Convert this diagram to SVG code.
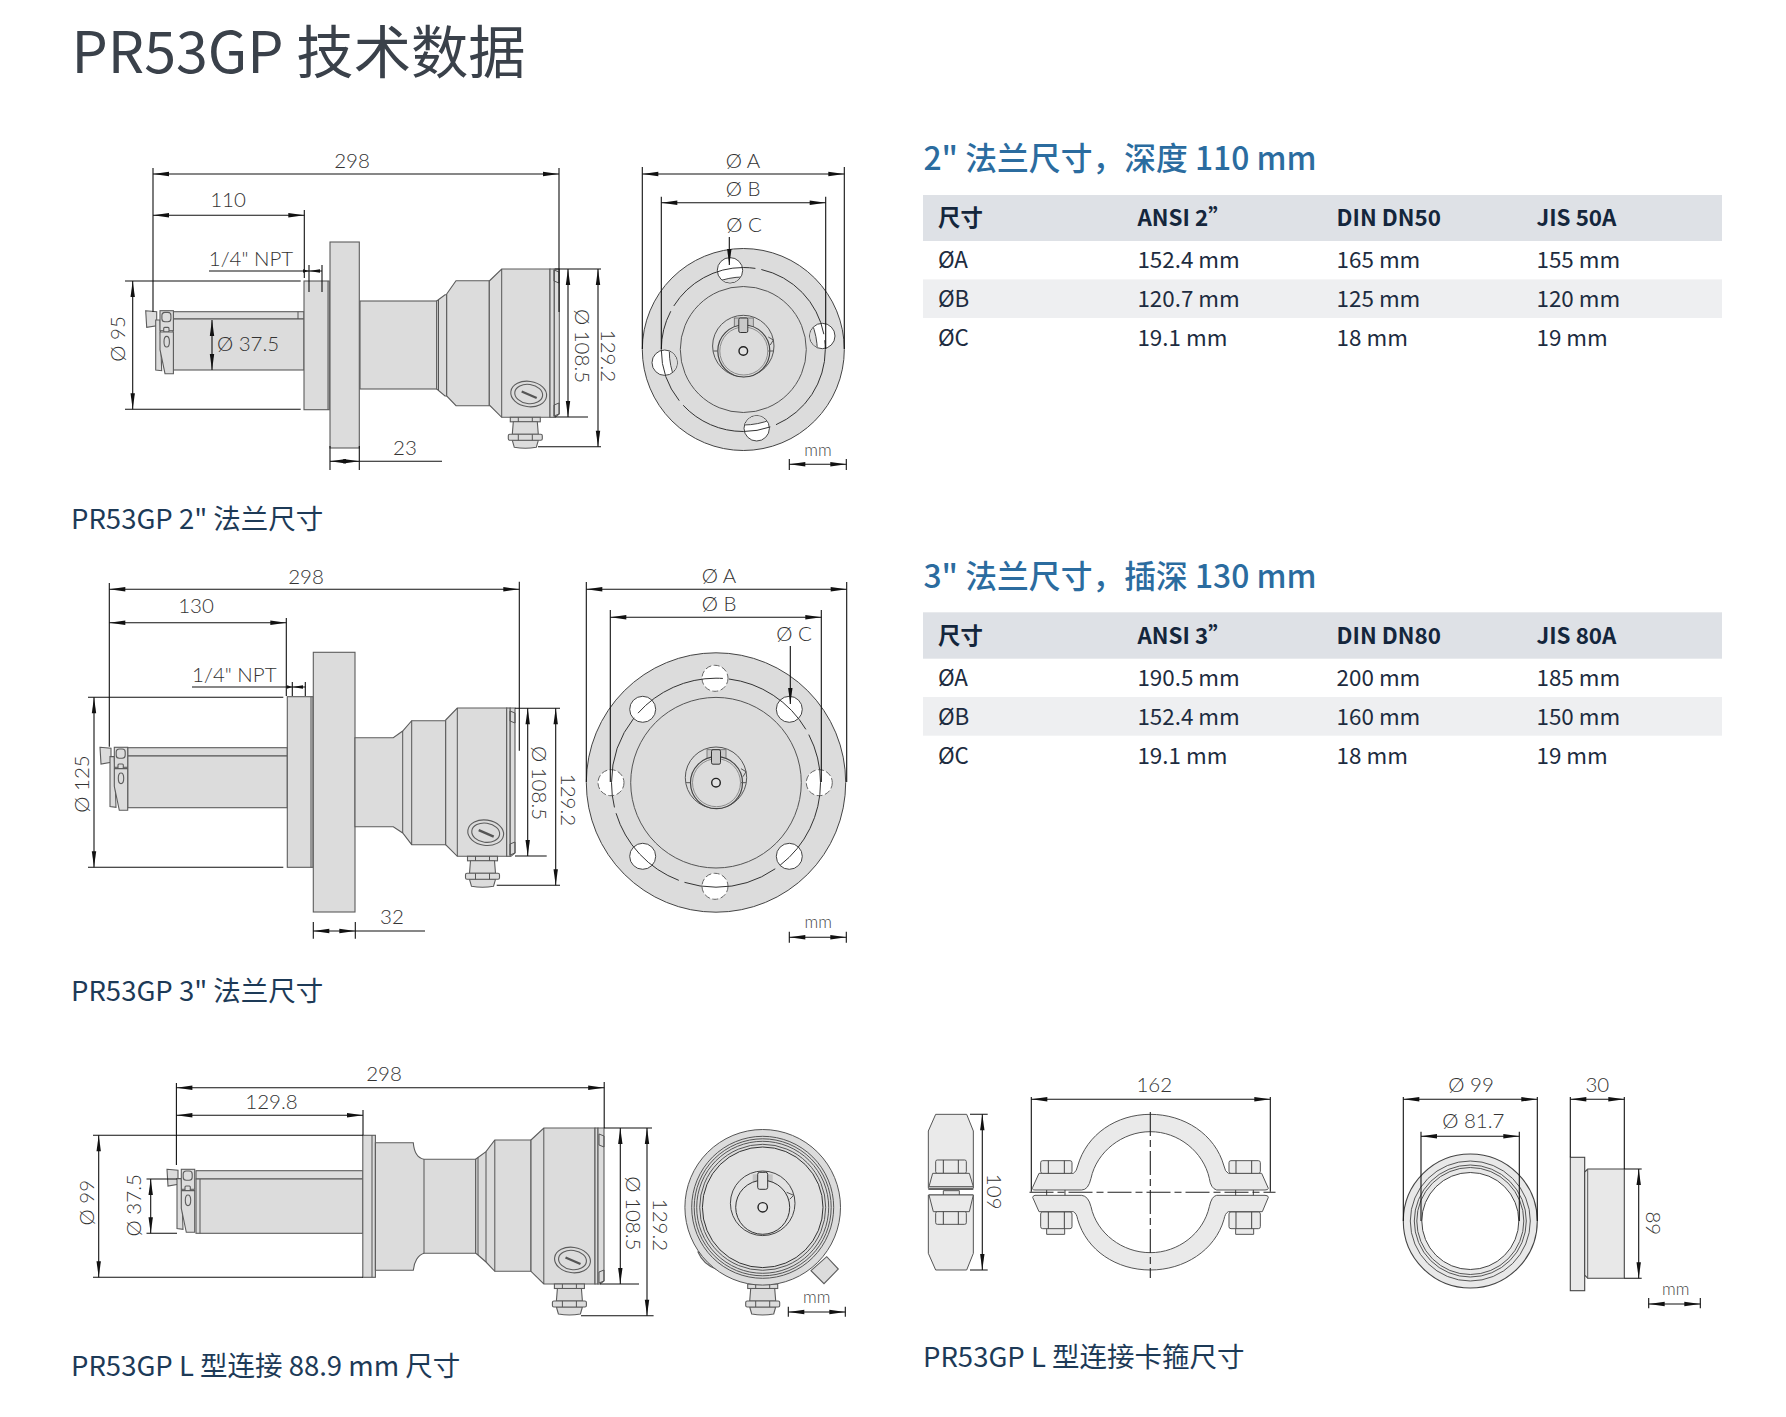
<svg xmlns="http://www.w3.org/2000/svg" xmlns:xlink="http://www.w3.org/1999/xlink" width="1786" height="1417" viewBox="0 0 1786 1417">
<style>
.n{font-family:"Noto Sans CJK SC","Noto Sans",sans-serif}
.h1{font-size:57.3px;font-weight:400;fill:#3a414a}
.h2{font-size:31.8px;font-weight:500;fill:#2b6c9f}
.cap{font-size:27.5px;fill:#1d3a57}
.th{font-size:22.4px;font-weight:700;fill:#14263c}
.td{font-size:22.4px;fill:#1d2c40}
.d{font-family:Lato,"Liberation Sans",sans-serif;font-weight:300;font-size:20.5px;fill:#333;text-anchor:middle}
.mm{font-family:Lato,"Liberation Sans",sans-serif;font-weight:300;font-size:17px;fill:#444;text-anchor:middle}
.hdr{fill:#dee1e6}.band{fill:#eeeff1}
.b{fill:#dcdcdc;stroke:#5c5c5c;stroke-width:1.1}
.w{fill:#e8e8e8;stroke:#444;stroke-width:1.1}
.l{fill:#eaeaea;stroke:#555;stroke-width:1;vector-effect:non-scaling-stroke}
.ln{fill:none;stroke:#555;stroke-width:1}
.ls{fill:none;stroke:#444;stroke-width:1;vector-effect:non-scaling-stroke}
.hole{fill:#fff;stroke:#444;stroke-width:1}
.hole2{fill:#fff;stroke:#666;stroke-width:1;stroke-dasharray:6 2.5}
.dash{fill:none;stroke:#333;stroke-width:1;stroke-dasharray:95 6}
.dm{fill:none;stroke:#111;stroke-width:1.1}
.ar{marker-start:url(#a);marker-end:url(#a)}
.cl{fill:none;stroke:#222;stroke-width:1.1;stroke-dasharray:24 4 7 4}
.tip{fill:#111}
</style>
<defs>
<marker id="a" markerUnits="userSpaceOnUse" markerWidth="18" markerHeight="6" viewBox="0 -3 16 6" refX="16" refY="0" orient="auto-start-reverse"><path d="M16 0L0-2.2V2.2Z" fill="#111"/></marker>
<g id="clamp">
<path class="b" d="M0 0L11 1V15L1 16.7Z"/>
<path class="b" d="M10 9.3H14.3L16 60L10 59.3Z"/>
<rect class="b" x="14.3" y="0" width="13.4" height="20"/>
<rect class="b" x="16.2" y="1.7" width="9" height="9.3" rx="3"/>
<rect class="b" x="18" y="16.7" width="5.3" height="4.7" rx="1"/>
<path class="b" d="M14.3 21.3H27.7V63H19.3L14.3 39Z"/>
<ellipse class="b" cx="21" cy="31" rx="2.7" ry="5.3"/>
</g>
<g id="gland">
<rect class="b" x="-15" y="0" width="30" height="4.5"/>
<path class="b" d="M-12 4.5H12L13 17H-13Z"/>
<path class="b" d="M-13 23L-11 30Q0 32 11 30L13 23Z"/>
<rect class="b" x="-17" y="17" width="34" height="6" rx="1.5"/>
<path class="ln" d="M-7 17V23M7 17V23M-7 0V4.5M7 0V4.5"/>
</g>
<g id="cap">
<ellipse class="b" rx="18" ry="12.7" transform="rotate(8)"/>
<ellipse class="b" rx="14" ry="9.6" transform="rotate(8)"/>
<path d="M-7-2.5L8 4" fill="none" stroke="#555" stroke-width="2.4"/>
</g>
<g id="boss">
<circle class="ln" cy="-5" r="30.7"/>
<rect x="-9" y="-33" width="19" height="14" fill="#c9c9c9" stroke="#666" stroke-width="0.8"/>
<circle cx="0.5" r="26" fill="#dcdcdc" stroke="#444" stroke-width="1.2"/>
<circle cx="0.5" r="24" fill="none" stroke="#777" stroke-width="0.8"/>
<rect x="-4.5" y="-33" width="9" height="14.5" rx="1.5" fill="#c9c9c9" stroke="#333" stroke-width="1"/>
<path class="ln" d="M-30 0H-26M25 0H30M25-14L30-11L27-6"/>
<circle r="4.3" fill="#e2e2e2" stroke="#222" stroke-width="1.4"/>
</g>
<clipPath id="h1clip">
<circle cx="730" cy="270.3" r="12.2"/><circle cx="822.3" cy="336" r="12.2"/><circle cx="664.7" cy="362.7" r="12.2"/><circle cx="756.7" cy="428.3" r="12.2"/>
</clipPath>
</defs>
<rect width="1786" height="1417" fill="#fff"/>
<g id="title"><text class="n h1" x="71.5" y="73">PR53GP 技术数据</text></g>

<g id="view-2in-side">
<rect class="b" x="173" y="311.7" width="131" height="7.3"/>
<rect class="b" x="173" y="319" width="131" height="51"/>
<path class="ln" d="M298 311.7V319"/>
<rect class="b" x="304" y="281" width="25.3" height="128.7"/>
<path class="ln" d="M328 281V409.7"/>
<rect class="b" x="330" y="242" width="29.3" height="206" stroke="#888"/>
<rect class="b" x="360" y="301" width="76.7" height="88"/>
<path class="b" d="M436.7 301L445 294.7H446.7V396H445L436.7 389Z"/>
<path class="ln" d="M438.5 300V390.5"/>
<path class="b" d="M446.7 294L456 280.7H489.3V405.7H456L446.7 396Z"/>
<path class="b" d="M489.3 281L501.7 269H550V417.3H501.7L489.3 405Z"/>
<path class="ln" d="M501.7 269V417.3"/>
<rect class="b" x="550" y="269" width="4.3" height="148.3"/>
<path class="b" d="M554.3 269H559.3V414L555 417.3H554.3Z"/>
<path class="ln" d="M554 270L559 272V283L554 281ZM554 405L559 403V414L554 416Z"/>
<use xlink:href="#clamp" href="#clamp" x="145.7" y="310.7"/>
<use xlink:href="#cap" href="#cap" x="528.7" y="394"/>
<use xlink:href="#gland" href="#gland" x="525.3" y="417.3"/>
</g>

<g id="view-2in-front">
<circle cx="743.3" cy="349.5" r="101" fill="#dcdcdc" stroke="#444"/>
<circle class="hole" cx="730" cy="270.3" r="12.7"/><circle class="hole" cx="822.3" cy="336" r="12.7"/><circle class="hole" cx="664.7" cy="362.7" r="12.7"/><circle class="hole" cx="756.7" cy="428.3" r="12.7"/>
<g clip-path="url(#h1clip)"><circle cx="743.3" cy="351" r="74" fill="#dcdcdc" stroke="#444"/></g>
<circle class="dash" cx="743.3" cy="349.5" r="82"/>
<circle class="ln" cx="743.3" cy="349.5" r="63" stroke="#333"/>
<use xlink:href="#boss" href="#boss" x="743.3" y="351"/>
</g>

<g id="view-3in-side">
<rect class="b" x="127.7" y="747.7" width="159.6" height="8.3"/>
<rect class="b" x="127.7" y="756" width="159.6" height="51.7"/>
<rect class="b" x="287.3" y="696.7" width="25.7" height="170.6"/>
<path class="ln" d="M311 696.7V867.3"/>
<rect class="b" x="313.3" y="652.3" width="41.7" height="259.7" stroke="#888"/>
<path class="b" d="M355 737.7H393.3L402.7 731L411.7 720.7H445.7V844.7H411.7L402.7 833L393.3 826.7H355Z"/>
<path class="ln" d="M402.7 731V833M411.7 720.7V844.7"/>
<path class="b" d="M445.7 720L457.3 708H506.7V856.3H457.3L445.7 844.7Z"/>
<path class="ln" d="M457.3 708V856.3"/>
<rect class="b" x="506.7" y="708" width="3.5" height="148.3"/>
<path class="b" d="M510.2 708H515V853L511 856.3H510.2Z"/>
<path class="ln" d="M510 711L515 713V723L510 721ZM510 844L515 842V853L510 855Z"/>
<use xlink:href="#clamp" href="#clamp" x="100" y="747.3"/>
<use xlink:href="#cap" href="#cap" x="485.7" y="832.7"/>
<use xlink:href="#gland" href="#gland" x="482.5" y="856.3"/>
</g>

<g id="view-3in-front">
<circle cx="716" cy="782.5" r="129.7" fill="#dcdcdc" stroke="#444"/>
<circle class="hole2" cx="715" cy="678.3" r="13"/><circle class="hole" cx="642.7" cy="709.3" r="13"/><circle class="hole" cx="789.3" cy="709.3" r="13"/><circle class="hole2" cx="611" cy="782.7" r="13"/><circle class="hole2" cx="819.3" cy="782.7" r="13"/><circle class="hole" cx="642.7" cy="856.3" r="13"/><circle class="hole" cx="789.3" cy="856.3" r="13"/><circle class="hole2" cx="715" cy="886.3" r="13"/>
<circle class="dash" cx="716" cy="782.7" r="104.5"/>
<circle class="ln" cx="716" cy="782.7" r="85.3" stroke="#333"/>
<use xlink:href="#boss" href="#boss" x="716" y="782.7"/>
</g>

<g id="view-l-side">
<rect class="b" x="196" y="1170.7" width="167" height="8.3"/>
<rect class="b" x="196" y="1179" width="167" height="54.3"/>
<path class="ln" d="M200 1179V1233.3"/>
<rect class="b" x="362.8" y="1135.3" width="12.6" height="142" stroke="#888"/>
<path class="ln" d="M372 1135.3V1277.3"/>
<path class="b" d="M375.4 1142.7H413.3C414 1152 418 1158 424 1159.3H475.7V1253.3H424C418 1255 414 1262 413.3 1270.3H375.4Z"/>
<path class="ln" d="M424 1159.3V1253.3"/>
<path class="b" d="M475.7 1159.3L478 1157.5L486 1151.7L494.8 1140H531V1271.3H494.8L486 1262L478 1255L475.7 1253.3Z"/>
<path class="ln" d="M478 1157.5V1255M486 1151.7V1262M494.8 1140V1271.3"/>
<path class="b" d="M531 1140L543.8 1128H595V1284H543.8L531 1271.3Z"/>
<path class="ln" d="M543.8 1128V1284"/>
<rect class="b" x="595" y="1128" width="3" height="156"/>
<path class="b" d="M598 1128H604V1281L600 1284H598Z"/>
<path class="ln" d="M599 1134L604 1136V1147L599 1145ZM599 1272L604 1270V1281L599 1283Z"/>
<use xlink:href="#clamp" href="#clamp" x="167" y="1169.3"/>
<use xlink:href="#cap" href="#cap" x="572.5" y="1260"/>
<use xlink:href="#gland" href="#gland" x="569.4" y="1284"/>
</g>

<g id="view-l-front">
<path class="b" d="M698 1252Q703 1264 716 1269L712 1250Z"/>
<path class="b" d="M811 1270.7L826.7 1256.7L838.3 1269L824 1283.7Z"/>
<use xlink:href="#gland" href="#gland" x="762.7" y="1284"/>
<circle cx="762.7" cy="1207.3" r="77.8" fill="#dcdcdc" stroke="#555"/>
<circle class="ln" cx="762.7" cy="1207.3" r="71"/><circle class="ln" cx="762.7" cy="1207.3" r="68.5"/><circle class="ln" cx="762.7" cy="1207.3" r="66"/><circle class="ln" cx="762.7" cy="1207.3" r="63" stroke="#333"/><circle cx="762.7" cy="1207.3" r="60.3" fill="#e2e2e2" stroke="#333"/>
<g transform="translate(762.7 1207.3)">
<circle cy="-4" r="32.3" fill="none" stroke="#444"/>
<rect x="-10" y="-33" width="20" height="13" fill="#c4c4c4"/>
<circle r="27" fill="#e2e2e2" stroke="#333"/>
<rect x="-5" y="-35" width="10" height="17" rx="2" fill="#e2e2e2" stroke="#333"/>
<path class="ln" d="M24-15L31-12L27-8"/>
<circle r="4.7" fill="#e8e8e8" stroke="#222" stroke-width="1.4"/>
</g>
</g>

<g id="clamp-side" transform="translate(920 1060) scale(.33333)">
<path class="l" d="M47 163H140L160 213V385H25V213Z"/>
<path class="l" d="M25 405H160V580L140 630H47L25 580Z"/>
<rect class="l" x="47" y="300" width="92" height="40" rx="5"/><path class="ls" d="M70 300V340M115 300V340"/>
<path class="l" d="M38 340H148L160 380H27Z"/><path class="ls" d="M25 388H160"/>
<rect class="l" x="70" y="392" width="48" height="13"/>
<path class="l" d="M27 405H160L148 455H40Z"/>
<rect class="l" x="47" y="455" width="92" height="38" rx="5"/><path class="ls" d="M70 455V493M115 455V493"/>
</g>

<g id="clamp-front" transform="translate(920 1060) scale(.33333)">
<path class="l" d="M338 382L357 340H460Q470 335 473 318C500 222 590 163 691 163C792 163 885 222 912 318Q915 335 925 340H1025L1045 385Q1045 390 1035 390H890Q872 385 868 355C850 275 775 215 691 215C607 215 530 275 513 355Q505 390 485 390H345Q335 390 338 382Z"/>
<path class="l" d="M338 412Q340 406 345 406H485Q505 408 513 440C530 520 607 578 691 578C775 578 850 520 868 440Q875 408 890 406H1035Q1045 406 1045 412L1027 455H925Q915 460 912 478C885 572 792 630 691 630C590 630 500 572 473 478Q470 460 460 455H357Z"/>
<rect class="l" x="362" y="302" width="94" height="38" rx="6"/><path class="ls" d="M385 302V340M433 302V340"/>
<rect class="l" x="927" y="302" width="94" height="38" rx="6"/><path class="ls" d="M948 302V340M995 302V340"/>
<rect class="l" x="380" y="505" width="54" height="18"/><rect class="l" x="362" y="456" width="94" height="50" rx="6"/><path class="ls" d="M385 456V506M433 456V506"/>
<rect class="l" x="947" y="505" width="54" height="18"/><rect class="l" x="927" y="456" width="94" height="50" rx="6"/><path class="ls" d="M948 456V506M995 456V506"/>
<path class="ls" d="M380 390V406M435 390V406M947 390V406M1000 390V406"/>
</g>

<g id="ring-front">
<circle class="w" cx="1470.3" cy="1221" r="67"/>
<circle class="ln" cx="1470.3" cy="1221" r="60" stroke="#444"/>
<circle class="ln" cx="1470.3" cy="1221" r="56" stroke="#333"/>
<circle class="ln" cx="1470.3" cy="1221" r="53.5" stroke="#333"/>
<circle class="hole" cx="1470.3" cy="1221" r="48.5"/>
</g>
<g id="ring-side">
<rect class="w" x="1570.3" y="1157.3" width="14.4" height="133.4"/>
<path class="w" d="M1584.7 1172L1587.7 1169H1624.3V1278.3H1587.7L1584.7 1275Z"/>
<path class="ln" d="M1587.7 1169V1278.3"/>
</g>

<g id="connectors">
<path class="dm" d="M153 168V312M559 168V312M304.3 210V278M309 265V292M322 265V292M125 281H300.7M125 409.3H300.7M555 269H601M555 417H588M538 446.7H601M330 446V470M359.3 446V470"/>
<path class="dm ar" d="M153 174H559"/>
<path class="dm ar" d="M153 215.3H304.3"/>
<path class="dm" d="M209 271H322"/>
<path class="tip" d="M309 271L303 269.3V272.7ZM309 271L320 269.3V272.7Z"/>
<path class="dm ar" d="M132.7 281V409.3"/>
<path class="dm ar" d="M212 320V370"/>
<path class="dm ar" d="M568 269V417"/>
<path class="dm ar" d="M598 269V446.7"/>
<path class="dm ar" d="M330 461.3H359.3"/><path class="dm" d="M359.3 461.3H442"/>

<path class="dm" d="M642.3 167V349M844.3 167V349M661.3 196.7V349M825.7 196.7V349M789.3 459V470M846.3 459V470"/>
<path class="dm ar" d="M642.3 174H844.3"/>
<path class="dm ar" d="M661.3 202.7H825.7"/>
<path class="dm" d="M729.3 237V265" marker-end="url(#a)"/>
<path class="dm ar" d="M789.3 464.3H846.3"/>

<path class="dm" d="M109.3 583V746.7M519.3 581.7V750.7M286.3 618V696M292.3 682V696M305.3 682V696M88 697.3H283.3M88 867.3H283.3M515 708.3H560M515 856H546.7M496.7 885.3H560M313.3 922V938.7M355.3 922V938.7"/>
<path class="dm ar" d="M109.3 589.3H519.3"/>
<path class="dm ar" d="M109.3 622.7H286.3"/>
<path class="dm" d="M192 687H305.3"/>
<path class="tip" d="M292.3 687L287 685.3V688.7ZM292.3 687L303 685.3V688.7Z"/>
<path class="dm ar" d="M94 697.3V867.3"/>
<path class="dm ar" d="M527.7 708.3V856"/>
<path class="dm ar" d="M555.7 708.3V885.3"/>
<path class="dm ar" d="M313.3 931H355.3"/><path class="dm" d="M355.3 931H425"/>

<path class="dm" d="M586.3 582V782M846.7 582V782M610.3 610V782M821.3 610V782M789.3 931.7V942.7M846.3 931.7V942.7"/>
<path class="dm ar" d="M586.3 589.3H846.7"/>
<path class="dm ar" d="M610.3 617.3H821.3"/>
<path class="dm" d="M790.3 646V704" marker-end="url(#a)"/>
<path class="dm ar" d="M789.3 937.3H846.3"/>

<path class="dm" d="M176.4 1083V1165M604.2 1082V1128M363 1110V1135.3M93 1135.3H363M93 1277.3H363M146.5 1179H177M146.5 1233.3H177M604 1128H652M600 1284H639M581 1315.7H653.6M788.3 1306.7V1316.7M845.3 1306.7V1316.7"/>
<path class="dm ar" d="M176.4 1087.7H604.2"/>
<path class="dm ar" d="M176.4 1115.3H363"/>
<path class="dm ar" d="M98.7 1135.3V1277.3"/>
<path class="dm ar" d="M150.7 1179V1233.3"/>
<path class="dm ar" d="M620.3 1128V1284"/>
<path class="dm ar" d="M647 1128V1315.7"/>
<path class="dm ar" d="M788.3 1312H845.3"/>

<path class="dm" d="M970 1114.3H987.7M970 1270H987.7M1031.3 1097V1191.7M1270.3 1097V1191.7"/>
<path class="dm ar" d="M982.3 1114.3V1270"/>
<path class="dm ar" d="M1031.3 1099.3H1270.3"/>
<path class="cl" d="M1029.5 1192.3H1275.5M1150.3 1112V1278"/>

<path class="dm" d="M1403.3 1097V1221M1537.3 1097V1221M1421 1131.7V1221M1519.3 1131.7V1221M1570.3 1097V1157.3M1624.3 1097V1169M1624.3 1169H1641.7M1624.3 1278.3H1641.7M1648.7 1298V1308.3M1700.3 1298V1308.3"/>
<path class="dm ar" d="M1403.3 1099.3H1537.3"/>
<path class="dm ar" d="M1421 1136.3H1519.3"/>
<path class="dm ar" d="M1570.3 1099.3H1624.3"/>
<path class="dm ar" d="M1638.7 1169V1278.3"/>
<path class="dm ar" d="M1648.7 1304H1700.3"/>
</g>

<g id="dim-labels">
<text class="d" x="352" y="168">298</text>
<text class="d" x="228" y="207">110</text>
<text class="d" x="251" y="265.5">1/4" NPT</text>
<text class="d" transform="translate(124.5 339) rotate(-90)">Ø 95</text>
<text class="d" x="248" y="351">Ø 37.5</text>
<text class="d" x="405" y="455">23</text>
<text class="d" transform="translate(574.5 346) rotate(90)">Ø 108.5</text>
<text class="d" transform="translate(601 356) rotate(90)">129.2</text>
<text class="d" x="743" y="168">Ø A</text>
<text class="d" x="743" y="195.7">Ø B</text>
<text class="d" x="744" y="231.7">Ø C</text>
<text class="mm" x="818" y="456">mm</text>

<text class="d" x="306" y="583.5">298</text>
<text class="d" x="196" y="613.3">130</text>
<text class="d" x="234.3" y="682">1/4" NPT</text>
<text class="d" transform="translate(89.2 784) rotate(-90)">Ø 125</text>
<text class="d" transform="translate(532 783) rotate(90)">Ø 108.5</text>
<text class="d" transform="translate(561 800) rotate(90)">129.2</text>
<text class="d" x="392" y="924">32</text>
<text class="d" x="719" y="583">Ø A</text>
<text class="d" x="719" y="610.7">Ø B</text>
<text class="d" x="794" y="640.7">Ø C</text>
<text class="mm" x="818.3" y="927.8">mm</text>

<text class="d" x="384" y="1081">298</text>
<text class="d" x="271.5" y="1109">129.8</text>
<text class="d" transform="translate(93.5 1202.7) rotate(-90)">Ø 99</text>
<text class="d" transform="translate(140.5 1205.3) rotate(-90)">Ø 37.5</text>
<text class="d" transform="translate(625.5 1213.3) rotate(90)">Ø 108.5</text>
<text class="d" transform="translate(652.5 1225) rotate(90)">129.2</text>
<text class="mm" x="816.7" y="1303">mm</text>

<text class="d" x="1154.3" y="1092">162</text>
<text class="d" transform="translate(986.5 1191.7) rotate(90)">109</text>
<text class="d" x="1471" y="1092">Ø 99</text>
<text class="d" x="1473.3" y="1127.5">Ø 81.7</text>
<text class="d" x="1597.3" y="1092">30</text>
<text class="d" transform="translate(1646 1223.3) rotate(90)">89</text>
<text class="mm" x="1675.7" y="1295">mm</text>
</g>

<g id="table-2in" class="n">
<text class="h2" x="923.5" y="169.7">2" 法兰尺寸，深度 110 mm</text>
<rect class="hdr" x="923" y="195" width="799" height="46"/>
<rect class="band" x="923" y="279.4" width="799" height="38.6"/>
<text class="th" x="938" y="226">尺寸</text><text class="th" x="1137.4" y="226">ANSI 2”</text><text class="th" x="1336.6" y="226">DIN DN50</text><text class="th" x="1536.5" y="226">JIS 50A</text>
<text class="td" x="938" y="268">ØA</text><text class="td" x="1137.4" y="268">152.4 mm</text><text class="td" x="1336.6" y="268">165 mm</text><text class="td" x="1536.5" y="268">155 mm</text>
<text class="td" x="938" y="306.7">ØB</text><text class="td" x="1137.4" y="306.7">120.7 mm</text><text class="td" x="1336.6" y="306.7">125 mm</text><text class="td" x="1536.5" y="306.7">120 mm</text>
<text class="td" x="938" y="345.7">ØC</text><text class="td" x="1137.4" y="345.7">19.1 mm</text><text class="td" x="1336.6" y="345.7">18 mm</text><text class="td" x="1536.5" y="345.7">19 mm</text>
</g>
<g id="table-3in" class="n">
<text class="h2" x="923.5" y="587.8">3" 法兰尺寸，插深 130 mm</text>
<rect class="hdr" x="923" y="612.3" width="799" height="46.4"/>
<rect class="band" x="923" y="697" width="799" height="38.7"/>
<text class="th" x="938" y="643.5">尺寸</text><text class="th" x="1137.4" y="643.5">ANSI 3”</text><text class="th" x="1336.6" y="643.5">DIN DN80</text><text class="th" x="1536.5" y="643.5">JIS 80A</text>
<text class="td" x="938" y="685.7">ØA</text><text class="td" x="1137.4" y="685.7">190.5 mm</text><text class="td" x="1336.6" y="685.7">200 mm</text><text class="td" x="1536.5" y="685.7">185 mm</text>
<text class="td" x="938" y="725">ØB</text><text class="td" x="1137.4" y="725">152.4 mm</text><text class="td" x="1336.6" y="725">160 mm</text><text class="td" x="1536.5" y="725">150 mm</text>
<text class="td" x="938" y="764">ØC</text><text class="td" x="1137.4" y="764">19.1 mm</text><text class="td" x="1336.6" y="764">18 mm</text><text class="td" x="1536.5" y="764">19 mm</text>
</g>
<g id="captions" class="n">
<text class="cap" x="71" y="529">PR53GP 2" 法兰尺寸</text>
<text class="cap" x="71" y="1000.5">PR53GP 3" 法兰尺寸</text>
<text class="cap" x="71" y="1375.5">PR53GP L 型连接 88.9 mm 尺寸</text>
<text class="cap" x="923" y="1366.5">PR53GP L 型连接卡箍尺寸</text>
</g>
</svg>
